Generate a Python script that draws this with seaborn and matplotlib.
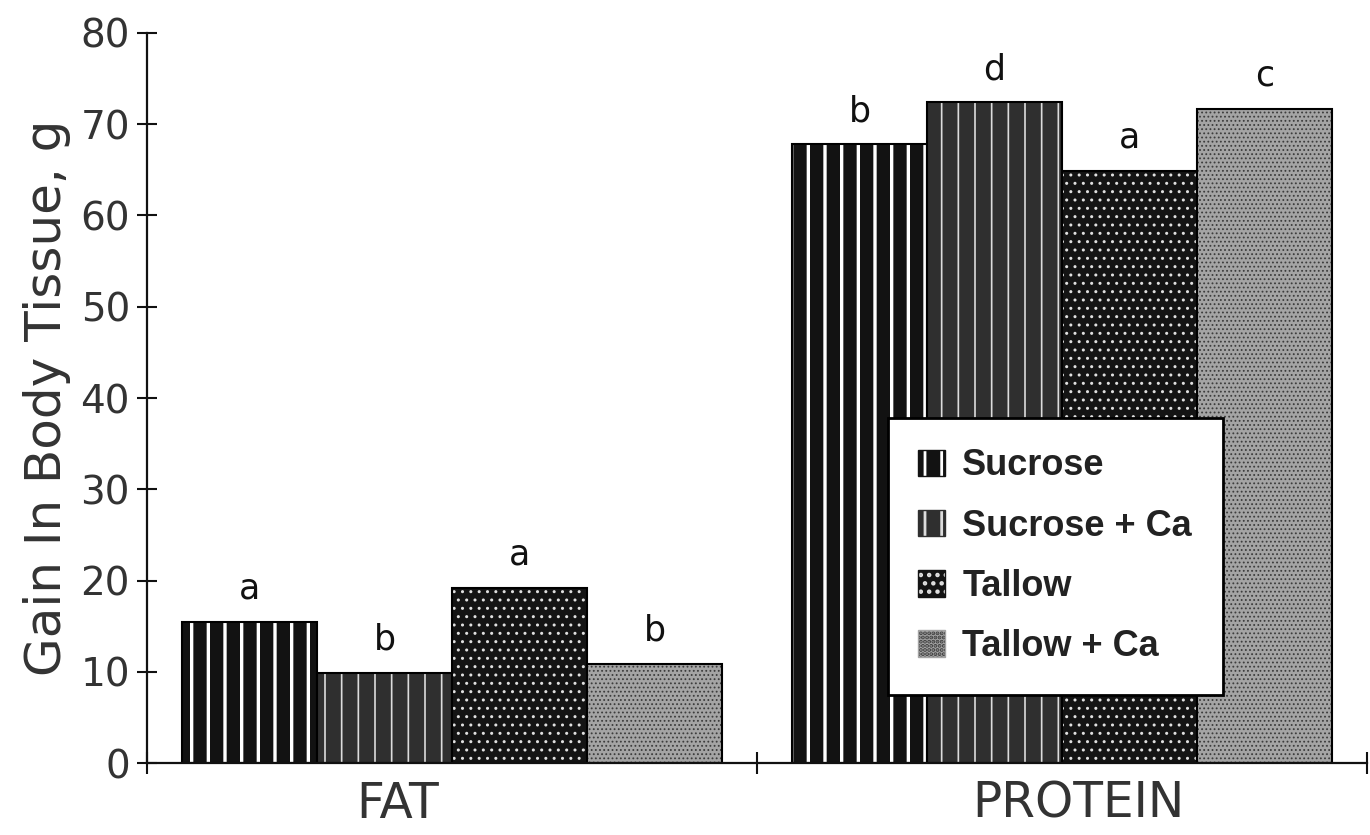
import matplotlib
matplotlib.use("Agg")
import matplotlib.pyplot as plt
import matplotlib.patches as mpatches
from matplotlib.colors import to_rgba
from matplotlib.transforms import ScaledTranslation
import seaborn as sns
import pandas as pd

# ---- data ----
tissues = ["FAT", "PROTEIN"]
diets = ["Sucrose", "Sucrose + Ca", "Tallow", "Tallow + Ca"]
gain_sucrose = [15.5, 67.8]
gain_sucrose_ca = [9.9, 72.4]
gain_tallow = [19.2, 64.9]
gain_tallow_ca = [10.9, 71.7]
letters_sucrose = ["a", "b"]
letters_sucrose_ca = ["b", "d"]
letters_tallow = ["a", "a"]
letters_tallow_ca = ["b", "c"]
y_ticks = [0, 10, 20, 30, 40, 50, 60, 70, 80]
y_label = "Gain In Body Tissue, g"

gains = [gain_sucrose, gain_sucrose_ca, gain_tallow, gain_tallow_ca]
letters = [letters_sucrose, letters_sucrose_ca, letters_tallow, letters_tallow_ca]
df = pd.DataFrame({
    "tissue": [t for _ in diets for t in tissues],
    "diet": [d for d in diets for _ in tissues],
    "gain": [v for g in gains for v in g],
})

# ---- styles ----
face = {"Sucrose": "#121212", "Sucrose + Ca": "#2f2f2f",
        "Tallow": "#141414", "Tallow + Ca": "#a4a4a4"}
hatch = {"Sucrose": "|", "Sucrose + Ca": "|", "Tallow": "..",
         "Tallow + Ca": "...."}
hcol = {"Sucrose": "white", "Sucrose + Ca": "#dcdcdc", "Tallow": "#e0e0e0",
        "Tallow + Ca": "#3c3c3c"}
hlw = {"Sucrose": 2.4, "Sucrose + Ca": 1.2, "Tallow": 1.0, "Tallow + Ca": 0.8}

sns.set_style("ticks")
plt.rcParams["font.family"] = ["DejaVu Sans"]
plt.rcParams["hatch.linewidth"] = 2.0

fig = plt.figure(figsize=(13.7, 8.35), dpi=100)
ax = fig.add_axes([0.1073, 0.0862, 0.9978 - 0.1073, 0.9605 - 0.0862])

sns.barplot(data=df, x="tissue", y="gain", hue="diet", order=tissues,
            hue_order=diets, palette=face, width=0.885, gap=0,
            errorbar=None, legend=False, edgecolor="black", linewidth=1.5,
            saturation=1, ax=ax)


def style_patch(p, d):
    p.set_hatch(hatch[d])
    p._hatch_color = to_rgba(hcol[d])
    if hasattr(p, "set_hatch_linewidth"):
        p.set_hatch_linewidth(hlw[d])
    else:
        p._hatch_linewidth = hlw[d]


for d, cont, labs in zip(diets, ax.containers, letters):
    for p, lab in zip(cont.patches, labs):
        p.set_edgecolor("black")
        style_patch(p, d)
        ax.text(p.get_x() + p.get_width() / 2, p.get_height() + 2.5, lab,
                ha="center", va="baseline", fontsize=25, color="#111111")

# ---- axes ----
ax.set_xlim(-0.5, 1.5)
ax.set_ylim(0, 80)
ax.set_yticks(y_ticks)
sns.despine(ax=ax)
for s in ("left", "bottom"):
    ax.spines[s].set_linewidth(1.6)
    ax.spines[s].set_color("#111111")
ax.tick_params(axis="y", direction="inout", length=14.4, width=1.5,
               labelsize=28, labelcolor="#333333", pad=5, color="#111111")
ax.tick_params(axis="x", which="major", length=0, labelsize=35,
               labelcolor="#333333", pad=12)
ax.set_xticks([-0.5, 0.5, 1.5], minor=True)
ax.tick_params(axis="x", which="minor", direction="inout", length=16.5,
               width=1.5, color="#111111")
ax.set_xlabel("")
ax.set_ylabel(y_label, fontsize=36, color="#333333")
ax.yaxis.set_label_coords(-0.062, 0.5)

# hand-placed category labels in the original: small horizontal nudges
for lbl, dx in zip(ax.get_xticklabels(), [-0.54, 0.16]):
    lbl.set_transform(lbl.get_transform() +
                      ScaledTranslation(dx, 0, fig.dpi_scale_trans))

# ---- legend ----
handles = []
for d in diets:
    h = mpatches.Patch(facecolor=face[d], edgecolor=face[d], label=d,
                       hatch=hatch[d])
    style_patch(h, d)
    handles.append(h)
leg = ax.legend(handles=handles, loc="upper left",
                bbox_to_anchor=(0.607, 0.473), borderaxespad=0,
                prop={"family": "Liberation Sans", "weight": "bold",
                      "size": 26},
                handlelength=0.75, handleheight=0.75, handletextpad=0.47,
                labelspacing=0.7, borderpad=0.85, fancybox=False,
                framealpha=1, edgecolor="black")
leg.get_frame().set_linewidth(2.0)
for t in leg.get_texts():
    t.set_color("#222222")

fig.savefig("out.png", dpi=100)
